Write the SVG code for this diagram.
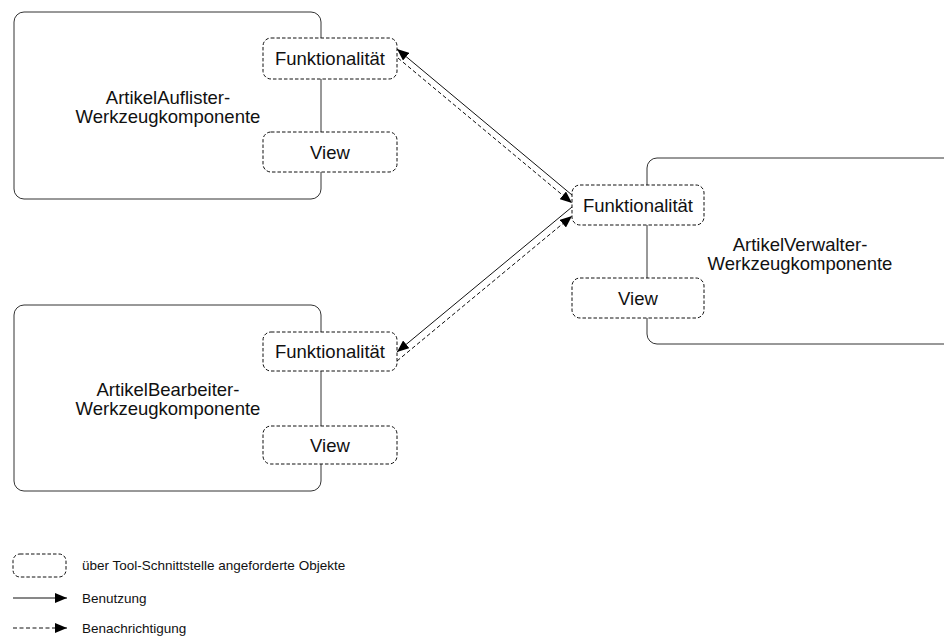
<svg xmlns="http://www.w3.org/2000/svg" width="944" height="637" viewBox="0 0 944 637">
  <style>
    text { font-family: "Liberation Sans", Arial, sans-serif; fill: #111; }
    .label { font-size: 18.5px; text-anchor: middle; }
    .legend { font-size: 13.5px; }
    .comp { fill: #fff; stroke: #333; stroke-width: 1; }
    .port { fill: #fff; stroke: #111; stroke-width: 1; stroke-dasharray: 3.5 2; }
    .use { fill: none; stroke: #111; stroke-width: 1; marker-end: url(#head); }
    .note { fill: none; stroke: #111; stroke-width: 1; stroke-dasharray: 4 2.5; marker-end: url(#head); }
  </style>
  <defs>
    <marker id="head" viewBox="0 0 12 10" refX="12" refY="5" markerWidth="12" markerHeight="10" markerUnits="userSpaceOnUse" orient="auto">
      <path d="M0,0 L12,5 L0,10 Z" fill="#000"/>
    </marker>
  </defs>
  <rect width="944" height="637" fill="#fff"/>

  <!-- component: ArtikelAuflister -->
  <g id="auflister">
    <rect class="comp" x="14" y="12" width="307" height="187" rx="10"/>
    <text class="label" x="168" y="104">ArtikelAuflister-</text>
    <text class="label" x="168" y="123">Werkzeugkomponente</text>
    <g id="auflister-funktionalitaet">
      <rect class="port" x="263" y="38" width="134" height="41" rx="8"/>
      <text class="label" x="330" y="65">Funktionalität</text>
    </g>
    <g id="auflister-view">
      <rect class="port" x="263" y="132" width="134" height="40" rx="8"/>
      <text class="label" x="330" y="158.5">View</text>
    </g>
  </g>

  <!-- component: ArtikelBearbeiter -->
  <g id="bearbeiter">
    <rect class="comp" x="14" y="305" width="307" height="186" rx="10"/>
    <text class="label" x="168" y="396">ArtikelBearbeiter-</text>
    <text class="label" x="168" y="415">Werkzeugkomponente</text>
    <g id="bearbeiter-funktionalitaet">
      <rect class="port" x="263" y="332" width="134" height="39" rx="8"/>
      <text class="label" x="330" y="358">Funktionalität</text>
    </g>
    <g id="bearbeiter-view">
      <rect class="port" x="263" y="426" width="134" height="38" rx="8"/>
      <text class="label" x="330" y="451.5">View</text>
    </g>
  </g>

  <!-- component: ArtikelVerwalter (runs off the right edge) -->
  <g id="verwalter">
    <rect class="comp" x="647" y="158" width="320" height="186" rx="10"/>
    <text class="label" x="800" y="251">ArtikelVerwalter-</text>
    <text class="label" x="800" y="270">Werkzeugkomponente</text>
    <g id="verwalter-funktionalitaet">
      <rect class="port" x="572" y="185" width="132" height="40" rx="8"/>
      <text class="label" x="638" y="211.5">Funktionalität</text>
    </g>
    <g id="verwalter-view">
      <rect class="port" x="572" y="278" width="132" height="40" rx="8"/>
      <text class="label" x="638" y="304.5">View</text>
    </g>
  </g>

  <!-- connectors -->
  <g id="connectors">
    <line class="use" x1="572" y1="195" x2="397" y2="49"/>
    <line class="note" x1="398" y1="58" x2="572" y2="203"/>
    <line class="use" x1="572" y1="207" x2="397" y2="352"/>
    <line class="note" x1="397" y1="361" x2="572" y2="216"/>
  </g>

  <!-- legend -->
  <g id="legend">
    <rect class="port" x="13" y="554" width="53" height="23" rx="7"/>
    <text class="legend" x="82" y="570">über Tool-Schnittstelle angeforderte Objekte</text>
    <line class="use" x1="13" y1="598" x2="67" y2="598"/>
    <text class="legend" x="82" y="603">Benutzung</text>
    <line class="note" x1="13" y1="628" x2="67" y2="628"/>
    <text class="legend" x="82" y="633">Benachrichtigung</text>
  </g>
</svg>
